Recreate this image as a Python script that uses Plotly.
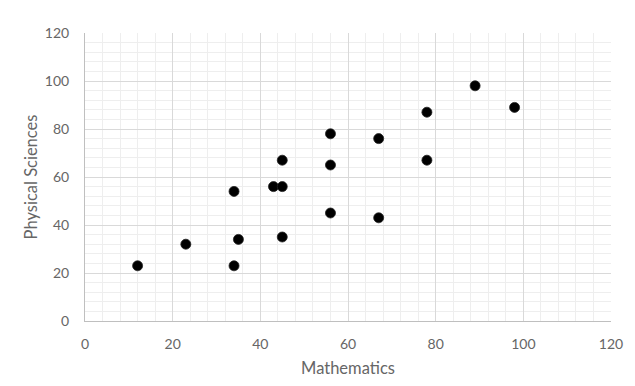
import plotly.graph_objects as go

mathematics = [12, 23, 34, 34, 35, 43, 45, 45, 45, 56, 56, 56, 67, 67, 78, 78, 89, 98]
physical_sciences = [23, 32, 54, 23, 34, 56, 56, 67, 35, 78, 65, 45, 76, 43, 87, 67, 98, 89]

x_title = "Mathematics"
y_title = "Physical Sciences"

fig = go.Figure()
fig.add_trace(go.Scatter(
    x=mathematics, y=physical_sciences, mode="markers",
    marker=dict(size=10, color="#000000", line=dict(width=0.8, color="#222222")),
    showlegend=False, hoverinfo="x+y",
))

font = dict(family="Lato, Calibri, sans-serif", size=14, color="#666666")
title_font = dict(family="Lato, Calibri, sans-serif", size=16.5, color="#666666")

axis_common = dict(
    range=[0, 120], dtick=20, tick0=0,
    showgrid=True, gridcolor="#d9d9d9", gridwidth=1,
    minor=dict(dtick=4, tick0=0, showgrid=True, gridcolor="#eeeeee", gridwidth=1),
    zeroline=False, showline=True, linecolor="#bfbfbf", linewidth=1,
    ticks="", tickfont=font, fixedrange=True,
)

fig.update_layout(
    width=635, height=386,
    margin=dict(l=85, r=24, t=33, b=65),
    paper_bgcolor="white", plot_bgcolor="white",
    font=font,
    xaxis=dict(**axis_common, ticklabelstandoff=10,
               title=dict(text=x_title, font=title_font, standoff=11)),
    yaxis=dict(**axis_common, ticklabelstandoff=12,
               title=dict(text=y_title, font=title_font, standoff=3)),
)

fig.write_html("out.html")
